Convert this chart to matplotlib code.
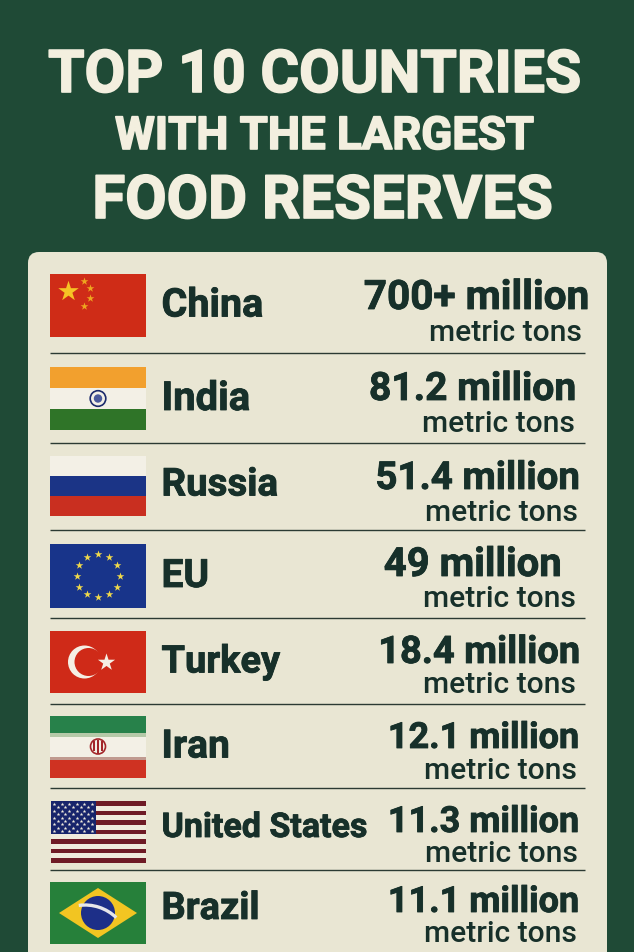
import matplotlib
matplotlib.use('Agg')
import matplotlib.pyplot as plt
import matplotlib.patheffects as pe
from matplotlib.patches import Rectangle, Circle, FancyBboxPatch, Polygon, Arc
import numpy as np

W, H = 634, 952
BG = '#1f4a36'
PANEL = '#e9e6d3'
INK = '#17302a'
CREAM = '#f3efdf'

title_lines = ['TOP 10 COUNTRIES', 'WITH THE LARGEST', 'FOOD RESERVES']
countries = ['China', 'India', 'Russia', 'EU', 'Turkey', 'Iran', 'United States', 'Brazil']
amounts = ['700+ million', '81.2 million', '51.4 million', '49 million',
           '18.4 million', '12.1 million', '11.3 million', '11.1 million']
unit = 'metric tons'

# layout, in pixels from the top of the picture
flag_top = [273.5, 367, 456, 543.5, 631, 716, 801, 882]
flag_bot = [336.5, 430, 516, 608, 693, 778, 863, 944]
name_base = [316.5, 410, 495.5, 587, 672.5, 757.5, 837, 919]
name_size = [39.5, 40, 38.5, 39, 38, 39, 34, 38]
amount_base = [309, 400, 489, 576, 663, 748, 832, 912]
amount_right = [589, 576, 580, 562, 580, 579, 579, 579]
amount_size = [40.5, 39, 38.5, 40, 38, 36, 36, 36]
unit_base = [341, 432, 521, 607, 693, 779, 862, 942]
unit_right = [582, 575, 578, 576, 576, 577, 578, 577]
rules = [352.5, 442.5, 530, 618, 704, 788, 870]
FX0, FX1 = 50, 146


def px(n):
    return n * 0.72


def rect(ax, x0, y0, x1, y1, c, z=3):
    ax.add_patch(Rectangle((x0, y0), x1 - x0, y1 - y0, fc=c, ec='none', zorder=z))


def stars(ax, xs, ys, s, c, z=5):
    ax.scatter(xs, ys, s=s, marker='*', c=c, linewidths=0, zorder=z)


def china(ax, t, b):
    rect(ax, FX0, t, FX1, b, '#cf2c17')
    stars(ax, [67.5], [t + 17], 240, '#f6c325')
    stars(ax, [84, 90, 90, 83.5], [t + 7, t + 14, t + 24.5, t + 32], 34, '#eea61f')


def india(ax, t, b):
    h = (b - t) / 3
    rect(ax, FX0, t, FX1, t + h, '#f2a02e')
    rect(ax, FX0, t + h, FX1, t + 2 * h, '#f3f0e6')
    rect(ax, FX0, t + 2 * h, FX1, b, '#2f7428')
    cy = t + 1.5 * h
    ax.add_patch(Circle((98, cy), 7.8, fc='#f3f0e6', ec='#1b2a6b', lw=1.2, zorder=5))
    ax.add_patch(Circle((98, cy), 4.2, fc='#4a5a9c', ec='none', zorder=5))


def russia(ax, t, b):
    h = (b - t) / 3
    rect(ax, FX0, t, FX1, t + h, '#f3f0e6')
    rect(ax, FX0, t + h, FX1, t + 2 * h, '#1b3486')
    rect(ax, FX0, t + 2 * h, FX1, b, '#c92f20')


def eu(ax, t, b):
    rect(ax, FX0, t, FX1, b, '#18348a')
    cy = (t + b) / 2
    a = np.radians(np.arange(0, 360, 30))
    stars(ax, 98 + 21.5 * np.cos(a), cy + 21.5 * np.sin(a), 34, '#f0d94a')


def turkey(ax, t, b):
    rect(ax, FX0, t, FX1, b, '#cf2a18')
    cy = (t + b) / 2
    ax.add_patch(Circle((84.5, cy), 16.5, fc='#f5efe4', ec='none', zorder=4))
    ax.add_patch(Circle((88.5, cy), 14, fc='#cf2a18', ec='none', zorder=4))
    stars(ax, [106], [cy], 170, '#f5efe4')


def iran(ax, t, b):
    rect(ax, FX0, t, FX1, t + 17, '#27814a')
    rect(ax, FX0, t + 17, FX1, t + 21, '#b5c9a8')
    rect(ax, FX0, t + 21, FX1, b - 21, '#f3f0e6')
    rect(ax, FX0, b - 21, FX1, b - 18, '#c09a90')
    rect(ax, FX0, b - 18, FX1, b, '#cf3222')
    cy = (t + b) / 2 - 0.5
    ax.add_patch(Circle((98, cy), 7.5, fc='#f3f0e6', ec='#a3262a', lw=1.2, zorder=5))
    ax.add_patch(Rectangle((96.8, cy - 7), 2.4, 14, fc='#a3262a', ec='none', zorder=5))
    for dx in (-3.8, 3.8):
        ax.add_patch(Rectangle((98 + dx - 0.9, cy - 6), 1.8, 10, fc='#a3262a', ec='none', zorder=5))


def usa(ax, t, b):
    rect(ax, FX0 + 0.5, t, FX1, b, '#f0ebdd')
    h = (b - t) / 13
    for i in range(0, 13, 2):
        rect(ax, FX0 + 0.5, t + i * h, FX1, t + (i + 1) * h, '#6f1b26')
    rect(ax, FX0 + 1, t, 96, t + 7 * h, '#17246b', z=4)
    xs, ys = [], []
    for r in range(9):
        for c in range(6 if r % 2 == 0 else 5):
            xs.append(54 + c * 7.6 + (0 if r % 2 == 0 else 3.8))
            ys.append(t + 3 + r * 3.4)
    stars(ax, xs, ys, 8, '#f0ebdd')


def brazil(ax, t, b):
    rect(ax, FX0, t, FX1, b, '#26803a')
    cy = (t + b) / 2
    ax.add_patch(Polygon([(59, cy), (98, t + 6), (137, cy), (98, b - 6)],
                         fc='#f2c522', ec='none', zorder=4))
    ax.add_patch(Circle((98, cy), 17, fc='#1d2f88', ec='none', zorder=5))
    ax.add_patch(Arc((85, cy + 37), 90, 90, theta1=262, theta2=314,
                     color='#e6e6ea', lw=2.4, zorder=6))


flag_funcs = [china, india, russia, eu, turkey, iran, usa, brazil]

fig = plt.figure(figsize=(W / 100, H / 100), dpi=100, facecolor=BG)
ax = fig.add_axes([0, 0, 1, 1])
ax.set_xlim(0, W)
ax.set_ylim(H, 0)
ax.axis('off')


def heavy(lw, c):
    return [pe.withStroke(linewidth=lw, foreground=c)]


# title
ax.text(314.5, 92, title_lines[0], ha='center', va='baseline', color=CREAM, family='Roboto',
        weight='bold', fontsize=px(59), path_effects=heavy(1.2, CREAM))
ax.text(324.5, 149, title_lines[1], ha='center', va='baseline', color=CREAM, family='Roboto',
        weight='bold', fontsize=px(45.5), path_effects=heavy(1.2, CREAM))
ax.text(322.5, 218, title_lines[2], ha='center', va='baseline', color=CREAM, family='Roboto',
        weight='bold', fontsize=px(60), path_effects=heavy(1.2, CREAM))

# panel runs off the bottom
ax.add_patch(FancyBboxPatch((38, 262), 559, 760, boxstyle='round,pad=10,rounding_size=11',
                            fc=PANEL, ec='none', zorder=1))

for y in rules:
    ax.plot([FX0, 585], [y, y], color='#2b3a33', lw=1.0, zorder=2, solid_capstyle='butt')

for i, name in enumerate(countries):
    flag_funcs[i](ax, flag_top[i], flag_bot[i])
    ax.text(161.5, name_base[i], name, ha='left', va='baseline', color=INK, family='Roboto',
            weight='bold', fontsize=px(name_size[i]), path_effects=heavy(0.6, INK))
    ax.text(amount_right[i], amount_base[i], amounts[i], ha='right', va='baseline', color=INK,
            family='Roboto', weight='bold', fontsize=px(amount_size[i]),
            path_effects=heavy(0.6, INK))
    ax.text(unit_right[i], unit_base[i], unit, ha='right', va='baseline', color=INK,
            family='Roboto', weight='medium', fontsize=px(30))

fig.savefig('out.png', dpi=100, facecolor=BG)
